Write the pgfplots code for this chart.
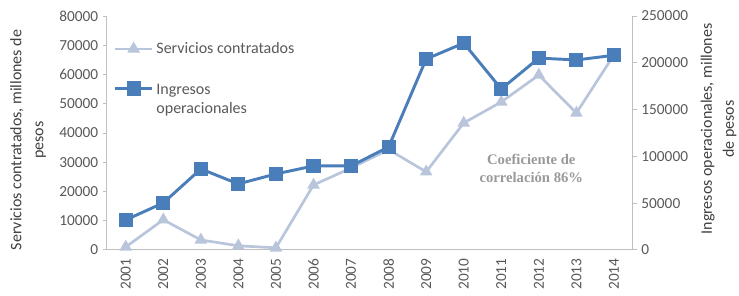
\documentclass[border=0pt]{standalone}
\usepackage{pgfplots}
\pgfplotsset{compat=1.18}
\usepackage{fontspec}
\setmainfont{Carlito}
\newfontfamily\serifb{Liberation Serif}
\definecolor{axgray}{HTML}{BFBFBF}
\definecolor{tkgray}{HTML}{595959}
\definecolor{lblgray}{HTML}{404040}
\definecolor{servc}{RGB}{185,197,219}
\definecolor{ingc}{HTML}{4A7EBB}
\pgfplotstableread{
x serv ing
1 1000 32000
2 10300 50200
3 3400 86500
4 1400 70500
5 700 81200
6 22200 89700
7 28000 89700
8 34300 110000
9 26700 204000
10 43400 221000
11 50600 172000
12 59800 205000
13 46800 203000
14 66700 208000
}\datatable
\pgfplotsset{
  common/.style={
    width=394.5pt, height=175.5pt, scale only axis,
    xmin=0.5, xmax=14.5,
    scaled y ticks=false,
    yticklabel style={/pgf/number format/fixed, /pgf/number format/precision=0, /pgf/number format/1000 sep={}},
    /pgf/number format/assume math mode=true,
    tick align=outside,
    major tick length=3pt,
    minor tick length=3pt,
    every tick/.style={axgray, line width=0.6pt},
    axis line style={axgray, line width=0.8pt},
    tick label style={font=\fontsize{11.5}{13}\selectfont, text=tkgray},
    label style={font=\fontsize{12}{16.5}\selectfont, text=lblgray},
  },
}
\begin{document}
\begin{tikzpicture}
\path[use as bounding box] (-80.25pt,-34.5pt) rectangle (474.25pt,187.5pt);
\begin{axis}[common,
  axis y line*=left, axis x line*=bottom,
  ymin=0, ymax=80000,
  ytick={0,10000,...,80000},
  xtick={1,...,14},
  xticklabels={2001,2002,2003,2004,2005,2006,2007,2008,2009,2010,2011,2012,2013,2014},
  xticklabel style={rotate=90, anchor=east},
  x tick style={draw=none},
  minor xtick={1.5,2.5,...,13.5},
  minor x tick style={axgray, line width=0.6pt},
  ylabel={Servicios contratados, millones de\\pesos},
  ylabel style={align=center, at={(axis description cs:-0.150,0.47)}, anchor=center},
]
\addplot[servc, line width=2pt, mark=triangle*, mark size=3.5pt, mark options={fill=servc, draw=servc}] table[x=x, y=serv] {\datatable};
\node[font=\serifb\bfseries\fontsize{11}{13.5}\selectfont, text=gray!80, align=center] at (axis cs:11.8,28000) {Coeficiente de\\correlación 86\%};
\end{axis}
\begin{axis}[common,
  axis y line*=right, axis x line=none,
  ymin=0, ymax=250000,
  ytick={0,50000,100000,150000,200000,250000},
  xtick=\empty,
  ylabel={Ingresos operacionales, millones\\de pesos},
  ylabel style={align=center, at={(axis description cs:1.1635,0.517)}, anchor=center},
  legend style={at={(axis description cs:0.012,0.90)}, anchor=north west, draw=none, fill=none,
    font=\fontsize{12}{14.5}\selectfont, text=tkgray, row sep=15pt, inner sep=0pt},
  legend cell align=left,
  legend image code/.code={\draw[mark repeat=2,mark phase=2] plot coordinates {(0pt,0pt) (14pt,0pt) (28pt,0pt)};},
]
\addlegendimage{servc, line width=2pt, mark=triangle*, mark size=3.5pt, mark options={fill=servc, draw=servc}}
\addlegendentry{Servicios contratados}
\addplot[ingc, line width=2.2pt, mark=square*, mark size=4.2pt, mark options={fill=ingc, draw=ingc}] table[x=x, y=ing] {\datatable};
\addlegendentry{\begin{tabular}[t]{@{}l@{}}Ingresos\\operacionales\end{tabular}}
\end{axis}
\end{tikzpicture}
\end{document}
